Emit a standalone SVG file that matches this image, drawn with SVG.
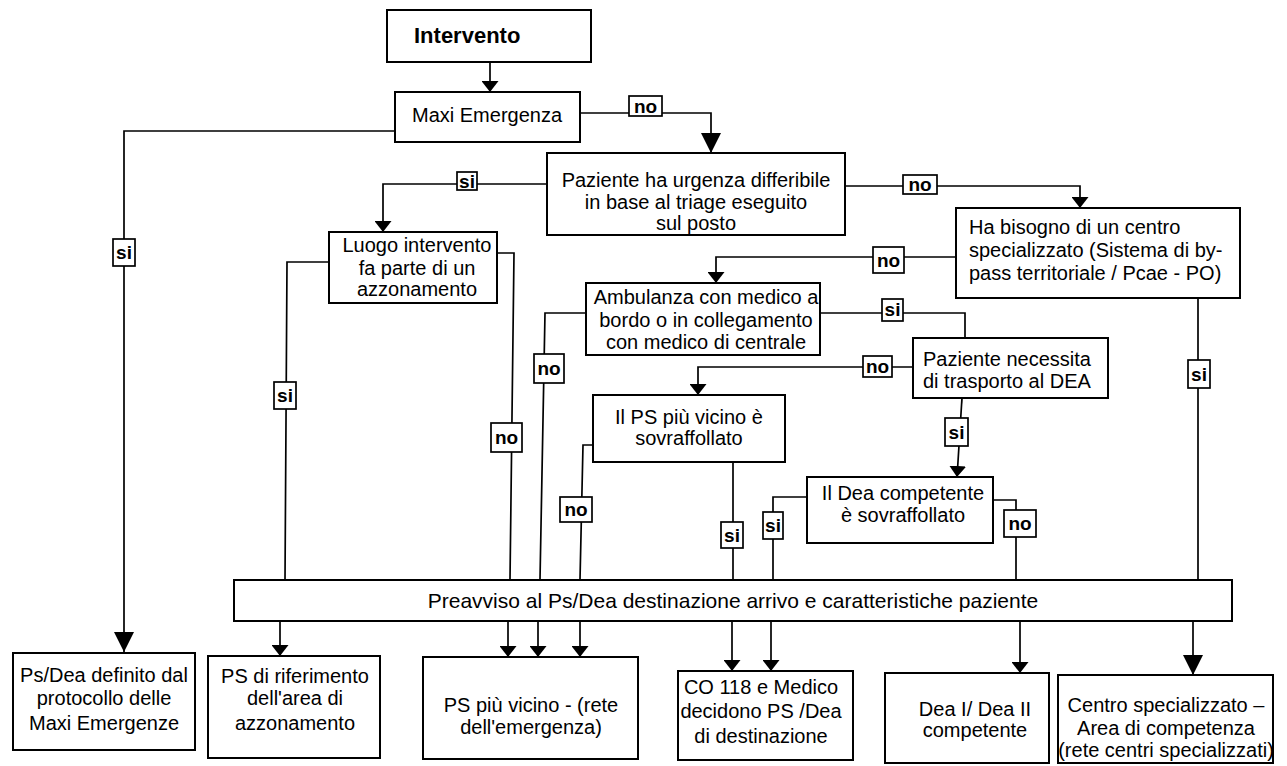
<svg xmlns="http://www.w3.org/2000/svg" width="1287" height="766" viewBox="0 0 1287 766">
<style>
.box{fill:#fff;stroke:#000;stroke-width:2}
.t{font-family:"Liberation Sans",Arial,sans-serif;font-size:20px;fill:#000}
.c{text-anchor:middle}
.ln{fill:none;stroke:#000;stroke-width:1.7}
.lb{fill:#fff;stroke:#000;stroke-width:1.7}
.lt{font-family:"Liberation Sans",Arial,sans-serif;font-size:19px;font-weight:bold;text-anchor:middle;fill:#000}
</style>
<defs>
<marker id="s" viewBox="0 0 10 10" refX="10" refY="5" markerWidth="11" markerHeight="17" markerUnits="userSpaceOnUse" orient="auto" preserveAspectRatio="none"><path d="M0,0L10,5L0,10z" fill="#000"/></marker>
<marker id="b" viewBox="0 0 10 10" refX="10" refY="5" markerWidth="20" markerHeight="20" markerUnits="userSpaceOnUse" orient="auto" preserveAspectRatio="none"><path d="M0,0L10,5L0,10z" fill="#000"/></marker>
</defs>
<rect width="1287" height="766" fill="#fff"/>

<g id="connectors">
<polyline class="ln" points="490,62 490,92" marker-end="url(#s)"/>
<polyline class="ln" points="580,113 711,113 711,153" marker-end="url(#b)"/>
<polyline class="ln" points="395,131 124,131 124,652" marker-end="url(#b)"/>
<polyline class="ln" points="547,184 383,184 383,232" marker-end="url(#s)"/>
<polyline class="ln" points="845,186 1080,186 1080,208" marker-end="url(#s)"/>
<polyline class="ln" points="956,257 716,257 716,283" marker-end="url(#s)"/>
<polyline class="ln" points="1198,298 1198,580"/>
<polyline class="ln" points="1193,621 1193,675" marker-end="url(#b)"/>
<polyline class="ln" points="329,262 287,262 285,580"/>
<polyline class="ln" points="280,621 280,656" marker-end="url(#s)"/>
<polyline class="ln" points="497,253 514,253 510,580"/>
<polyline class="ln" points="508,621 508,657" marker-end="url(#s)"/>
<polyline class="ln" points="586,313 545,313 540,580"/>
<polyline class="ln" points="538,621 538,657" marker-end="url(#s)"/>
<polyline class="ln" points="820,313 965,313 965,338"/>
<polyline class="ln" points="913,367 698,367 698,395" marker-end="url(#s)"/>
<polyline class="ln" points="962,398 957,477" marker-end="url(#s)"/>
<polyline class="ln" points="593,445 583,445 580,580"/>
<polyline class="ln" points="580,621 580,657" marker-end="url(#s)"/>
<polyline class="ln" points="733,462 733,580"/>
<polyline class="ln" points="732,621 732,671" marker-end="url(#s)"/>
<polyline class="ln" points="807,497 773,497 773,580"/>
<polyline class="ln" points="771,621 771,671" marker-end="url(#s)"/>
<polyline class="ln" points="993,500 1016,500 1016,580"/>
<polyline class="ln" points="1020,621 1020,673" marker-end="url(#s)"/>
</g>

<g id="labels">
<rect class="lb" x="629" y="96" width="33" height="20"/><text class="lt" x="645.5" y="113">no</text>
<rect class="lb" x="113" y="239" width="22" height="27"/><text class="lt" x="124" y="259">si</text>
<rect class="lb" x="457" y="172" width="20" height="18"/><text class="lt" x="467" y="188">si</text>
<rect class="lb" x="903" y="175" width="34" height="19"/><text class="lt" x="920" y="191">no</text>
<rect class="lb" x="873" y="247" width="31" height="26"/><text class="lt" x="888.5" y="267">no</text>
<rect class="lb" x="1188" y="360" width="22" height="28"/><text class="lt" x="1199" y="381">si</text>
<rect class="lb" x="274" y="382" width="22" height="27"/><text class="lt" x="285" y="402">si</text>
<rect class="lb" x="491" y="423" width="31" height="29"/><text class="lt" x="506.5" y="444">no</text>
<rect class="lb" x="534" y="354" width="30" height="29"/><text class="lt" x="549" y="375">no</text>
<rect class="lb" x="882" y="299" width="21" height="22"/><text class="lt" x="892.5" y="316">si</text>
<rect class="lb" x="863" y="356" width="29" height="21"/><text class="lt" x="877.5" y="373">no</text>
<rect class="lb" x="945" y="418" width="23" height="28"/><text class="lt" x="956.5" y="439">si</text>
<rect class="lb" x="560" y="497" width="32" height="25"/><text class="lt" x="576" y="516">no</text>
<rect class="lb" x="721" y="522" width="22" height="26"/><text class="lt" x="732" y="542">si</text>
<rect class="lb" x="763" y="512" width="20" height="27"/><text class="lt" x="773" y="532">si</text>
<rect class="lb" x="1004" y="510" width="32" height="27"/><text class="lt" x="1020" y="530">no</text>
</g>

<g id="n-intervento"><rect class="box" x="387" y="10" width="204" height="52"/><text class="t" x="414" y="43" style="font-weight:bold;font-size:22px">Intervento</text></g>
<g id="n-maxi"><rect class="box" x="395" y="92" width="185" height="50"/><text class="t c" x="487" y="122">Maxi Emergenza</text></g>
<g id="n-urgenza"><rect class="box" x="547" y="153" width="298" height="82"/><text class="t c" x="696" y="187">Paziente ha urgenza differibile</text><text class="t c" x="696" y="209">in base al triage eseguito</text><text class="t c" x="696" y="230">sul posto</text></g>
<g id="n-bisogno"><rect class="box" x="956" y="208" width="284" height="90"/><text class="t" x="969" y="234">Ha bisogno di un centro</text><text class="t" x="969" y="257">specializzato (Sistema di by-</text><text class="t" x="969" y="280">pass territoriale / Pcae - PO)</text></g>
<g id="n-luogo"><rect class="box" x="329" y="232" width="168" height="71"/><text class="t c" x="417" y="252">Luogo intervento</text><text class="t c" x="417" y="275">fa parte di un</text><text class="t c" x="417" y="296">azzonamento</text></g>
<g id="n-ambulanza"><rect class="box" x="586" y="283" width="234" height="72"/><text class="t c" x="706" y="304">Ambulanza con medico a</text><text class="t c" x="706" y="327">bordo o in collegamento</text><text class="t c" x="706" y="349">con medico di centrale</text></g>
<g id="n-necessita"><rect class="box" x="913" y="338" width="195" height="60"/><text class="t" x="923" y="366">Paziente necessita</text><text class="t" x="923" y="388">di trasporto al DEA</text></g>
<g id="n-ilps"><rect class="box" x="593" y="395" width="192" height="67"/><text class="t c" x="689" y="424">Il PS più vicino è</text><text class="t c" x="689" y="445">sovraffollato</text></g>
<g id="n-ildea"><rect class="box" x="807" y="477" width="186" height="66"/><text class="t c" x="903" y="500">Il Dea competente</text><text class="t c" x="903" y="522">è sovraffollato</text></g>
<g id="n-preavviso"><rect class="box" x="234" y="580" width="998" height="41"/><text class="t c" x="733" y="608" style="font-size:21px">Preavviso al Ps/Dea destinazione arrivo e caratteristiche paziente</text></g>
<g id="n-psdea"><rect class="box" x="13" y="653" width="182" height="97"/><text class="t c" x="104" y="682">Ps/Dea definito dal</text><text class="t c" x="104" y="705">protocollo delle</text><text class="t c" x="104" y="730">Maxi Emergenze</text></g>
<g id="n-psrif"><rect class="box" x="208" y="656" width="172" height="102"/><text class="t c" x="295" y="683">PS di riferimento</text><text class="t c" x="295" y="705">dell'area di</text><text class="t c" x="295" y="730">azzonamento</text></g>
<g id="n-psvicino"><rect class="box" x="423" y="657" width="215" height="102"/><text class="t c" x="531" y="712">PS più vicino - (rete</text><text class="t c" x="531" y="734">dell'emergenza)</text></g>
<g id="n-co118"><rect class="box" x="678" y="671" width="175" height="89"/><text class="t c" x="761" y="694">CO 118 e Medico</text><text class="t c" x="761" y="718">decidono PS /Dea</text><text class="t c" x="761" y="743">di destinazione</text></g>
<g id="n-deai"><rect class="box" x="885" y="673" width="164" height="90"/><text class="t c" x="975" y="716">Dea I/ Dea II</text><text class="t c" x="975" y="737">competente</text></g>
<g id="n-centro"><rect class="box" x="1058" y="675" width="215" height="88"/><text class="t c" x="1166" y="712">Centro specializzato –</text><text class="t c" x="1166" y="735">Area di competenza</text><text class="t c" x="1166" y="757">(rete centri specializzati)</text></g>
</svg>
